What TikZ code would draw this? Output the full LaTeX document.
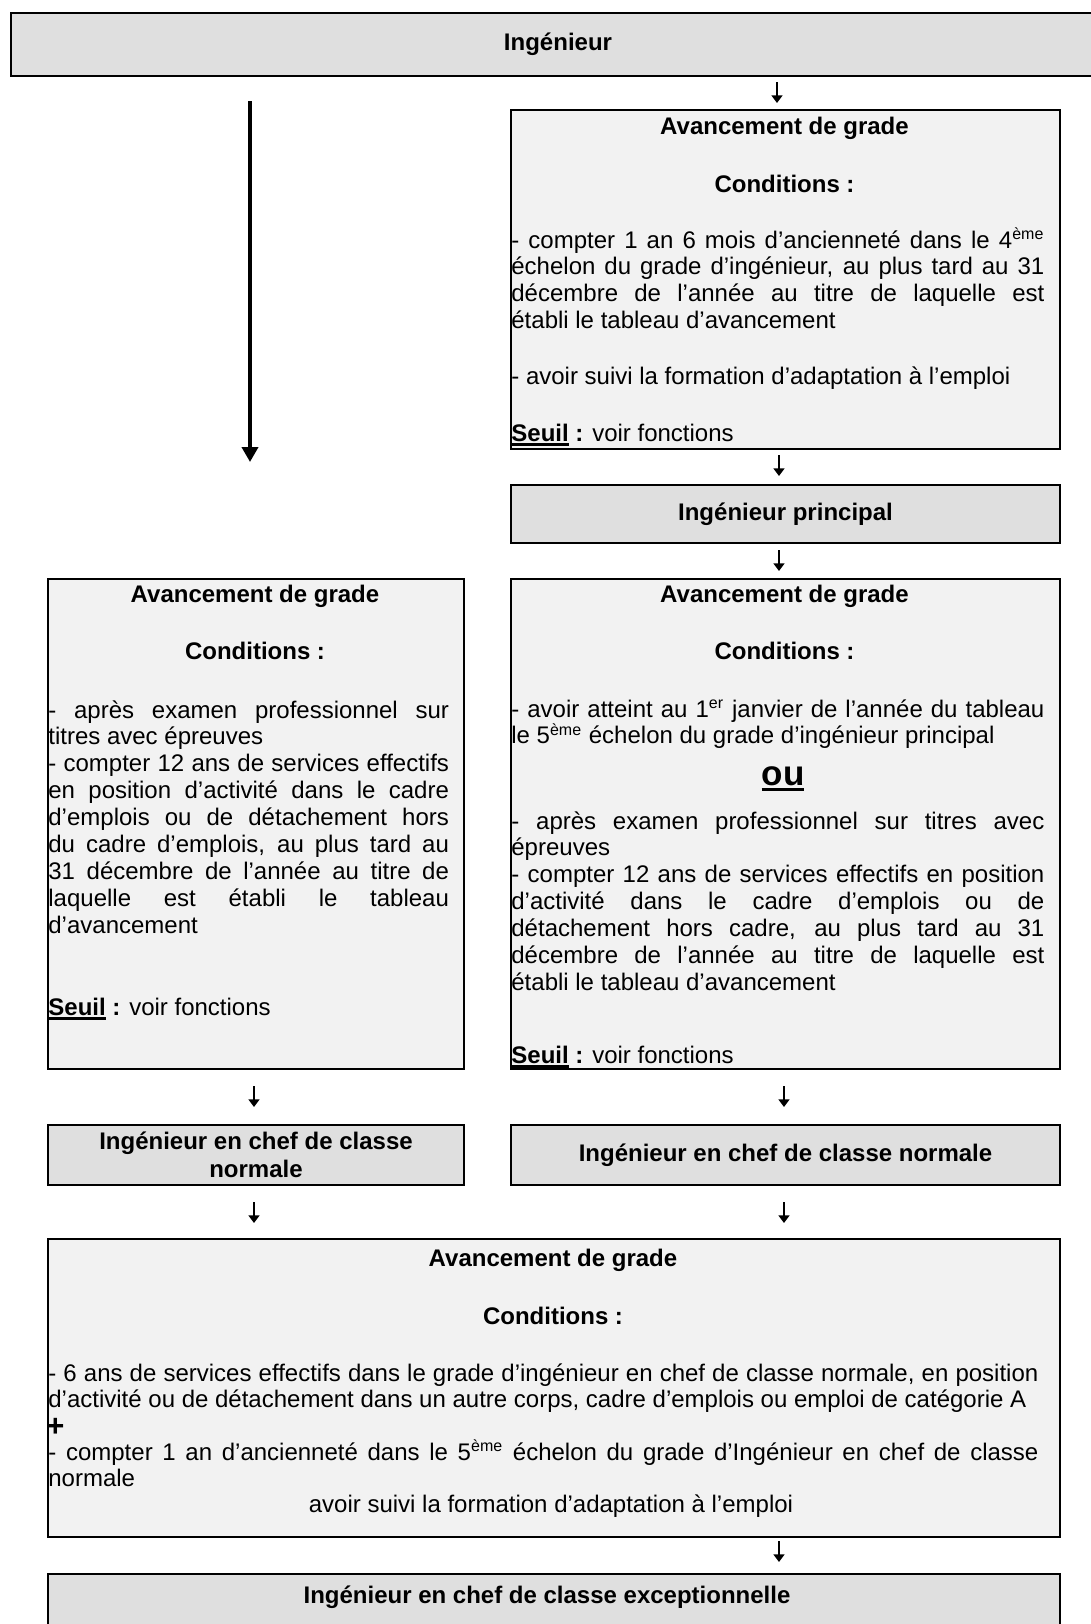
\documentclass[tikz,border=0pt]{standalone}
\usepackage{fontspec}
\setmainfont{Liberation Sans}
\usetikzlibrary{arrows.meta}
\definecolor{hdrgray}{HTML}{DFDFDF}
\definecolor{avgray}{HTML}{F2F2F2}
\hyphenpenalty=10000
\exhyphenpenalty=10000
\tolerance=10000
\hbadness=10000
\newcommand{\myul}[3]{\leavevmode\sbox0{#1}\rlap{\rule[#2]{\wd0}{#3}}\usebox0}
\newcommand{\seuiltxt}{\myul{\bfseries Seuil}{-2.4pt}{1.2pt}\textbf{ :} voir fonctions}
\tikzset{
  frame/.style={draw=black, line width=1pt, rectangle, inner sep=0pt, anchor=north west},
  hdrbox/.style={frame, fill=hdrgray},
  avbox/.style={frame, fill=avgray},
  boldtxt/.style={font=\fontsize{12}{14}\selectfont\bfseries},
  body/.style={anchor=base west, inner sep=0pt, align=justify, font=\fontsize{12}{13.45}\selectfont},
  plain/.style={anchor=base west, inner sep=0pt, font=\fontsize{12}{13.45}\selectfont},
  ttl/.style={anchor=base, inner sep=0pt, boldtxt},
  grade/.style={inner sep=0pt, align=center, boldtxt},
  smallarr/.style={line width=0.9pt, -{Triangle[length=3.8pt,width=5.4pt]}},
  bigarr/.style={line width=2pt, -{Triangle[length=7.5pt,width=8pt]}}
}
\begin{document}
\begin{tikzpicture}[x=0.5pt,y=-0.5pt]
\useasboundingbox (0,0) rectangle (1091,1624);
\fill[white] (0,0) rectangle (1091,1624);

% ---------- boxes ----------
\node[hdrbox, minimum width=550pt, minimum height=31.5pt] (ing) at (10,12) {};
\node[grade] (ingt) at (558,44) {Ingénieur};

\node[avbox, minimum width=274.5pt, minimum height=169.5pt] (a1) at (510,109) {};
\node[hdrbox, boldtxt, minimum width=274.5pt, minimum height=29pt] (ip) at (510,484) {Ingénieur principal};

\node[avbox, minimum width=208pt, minimum height=245pt] (a2) at (47,578) {};
\node[avbox, minimum width=274.5pt, minimum height=245pt] (a3) at (510,578) {};

\node[hdrbox, boldtxt, align=center, minimum width=208pt, minimum height=30pt] (cnl) at (47,1124) {Ingénieur en chef de classe\\normale};
\node[hdrbox, boldtxt, minimum width=274.5pt, minimum height=30pt] (cnr) at (510,1124) {Ingénieur en chef de classe normale};

\node[avbox, minimum width=506pt, minimum height=149pt] (a4) at (47,1238) {};
\node[hdrbox, minimum width=506pt, minimum height=40pt] (fin) at (47,1573) {};
\node[grade] (fint) at (547,1597) {Ingénieur en chef de classe exceptionnelle};

% ---------- box A1 ----------
\node[ttl] (a1t) at (784.5,134) {Avancement de grade};
\node[ttl] (a1c) at (784.5,192) {Conditions :};
\node[body, text width=266.5pt] (a1p1) at (511,248) {- compter 1 an 6 mois d’ancienneté dans le 4\textsuperscript{ème}\linebreak échelon du grade d’ingénieur, au plus tard au 31\linebreak décembre de l’année au titre de laquelle est\linebreak établi le tableau d’avancement};
\node[plain] (a1p2) at (511,384) {- avoir suivi la formation d’adaptation à l’emploi};
\node[plain] (a1s) at (511,441) {\seuiltxt};

% ---------- box A2 ----------
\node[ttl] (a2t) at (255,602) {Avancement de grade};
\node[ttl] (a2c) at (255,659) {Conditions :};
\node[body, text width=200.3pt] (a2p) at (48,718) {- après examen professionnel sur\linebreak titres avec épreuves\par
- compter 12 ans de services effectifs\linebreak en position d’activité dans le cadre\linebreak d’emplois ou de détachement hors\linebreak du cadre d’emplois, au plus tard au\linebreak 31 décembre de l’année au titre de\linebreak laquelle est établi le tableau\linebreak d’avancement};
\node[plain] (a2s) at (48,1015) {\seuiltxt};

% ---------- box A3 ----------
\node[ttl] (a3t) at (784.5,602) {Avancement de grade};
\node[ttl] (a3c) at (784.5,659) {Conditions :};
\node[body, text width=266.5pt] (a3p1) at (511,717) {- avoir atteint au 1\textsuperscript{er} janvier de l’année du tableau\linebreak le 5\textsuperscript{ème} échelon du grade d’ingénieur principal};
\node[anchor=base, inner sep=0pt, font=\fontsize{17.5}{20}\selectfont\bfseries] (ou) at (783,785) {\myul{ou}{-3.2pt}{1.5pt}};
\node[body, text width=266.5pt] (a3p2) at (511,829) {- après examen professionnel sur titres avec\linebreak épreuves\par
- compter 12 ans de services effectifs en position\linebreak d’activité dans le cadre d’emplois ou de\linebreak détachement hors cadre, au plus tard au 31\linebreak décembre de l’année au titre de laquelle est\linebreak établi le tableau d’avancement};
\node[plain] (a3s) at (511,1063) {\seuiltxt};

% ---------- box A4 ----------
\node[ttl] (a4t) at (553,1266) {Avancement de grade};
\node[ttl] (a4c) at (553,1324) {Conditions :};
\node[body, text width=495pt] (a4p1) at (48,1381) {- 6 ans de services effectifs dans le grade d’ingénieur en chef de classe normale, en position\linebreak d’activité ou de détachement dans un autre corps, cadre d’emplois ou emploi de catégorie A};
\node[anchor=base west, inner sep=0pt, font=\fontsize{15.5}{18}\selectfont\bfseries] (plus) at (46,1436) {\smash{+}};
\node[body, text width=495pt] (a4p2) at (48,1460) {- compter 1 an d’ancienneté dans le 5\textsuperscript{ème} échelon du grade d’Ingénieur en chef de classe\linebreak normale};
\node[anchor=base, inner sep=0pt, font=\fontsize{12}{13.45}\selectfont] (a4p3) at (551,1512) {avoir suivi la formation d’adaptation à l’emploi};

% ---------- arrows ----------
\coordinate (s1) at (777,82);   \coordinate (e1) at (777,103);
\coordinate (s2) at (779,455);  \coordinate (e2) at (779,476);
\coordinate (s3) at (779,550);  \coordinate (e3) at (779,571);
\coordinate (s4l) at (254,1086); \coordinate (e4l) at (254,1107);
\coordinate (s4r) at (784,1086); \coordinate (e4r) at (784,1107);
\coordinate (s5l) at (254,1202); \coordinate (e5l) at (254,1223);
\coordinate (s5r) at (784,1202); \coordinate (e5r) at (784,1223);
\coordinate (s6) at (779,1541); \coordinate (e6) at (779,1562);
\coordinate (ls) at (250,101);  \coordinate (le) at (250,462);

\draw[smallarr] (s1) -- (e1);
\draw[smallarr] (s2) -- (e2);
\draw[smallarr] (s3) -- (e3);
\draw[smallarr] (s4l) -- (e4l);
\draw[smallarr] (s4r) -- (e4r);
\draw[smallarr] (s5l) -- (e5l);
\draw[smallarr] (s5r) -- (e5r);
\draw[smallarr] (s6) -- (e6);
\draw[bigarr] (ls) -- (le);
\end{tikzpicture}
\end{document}
